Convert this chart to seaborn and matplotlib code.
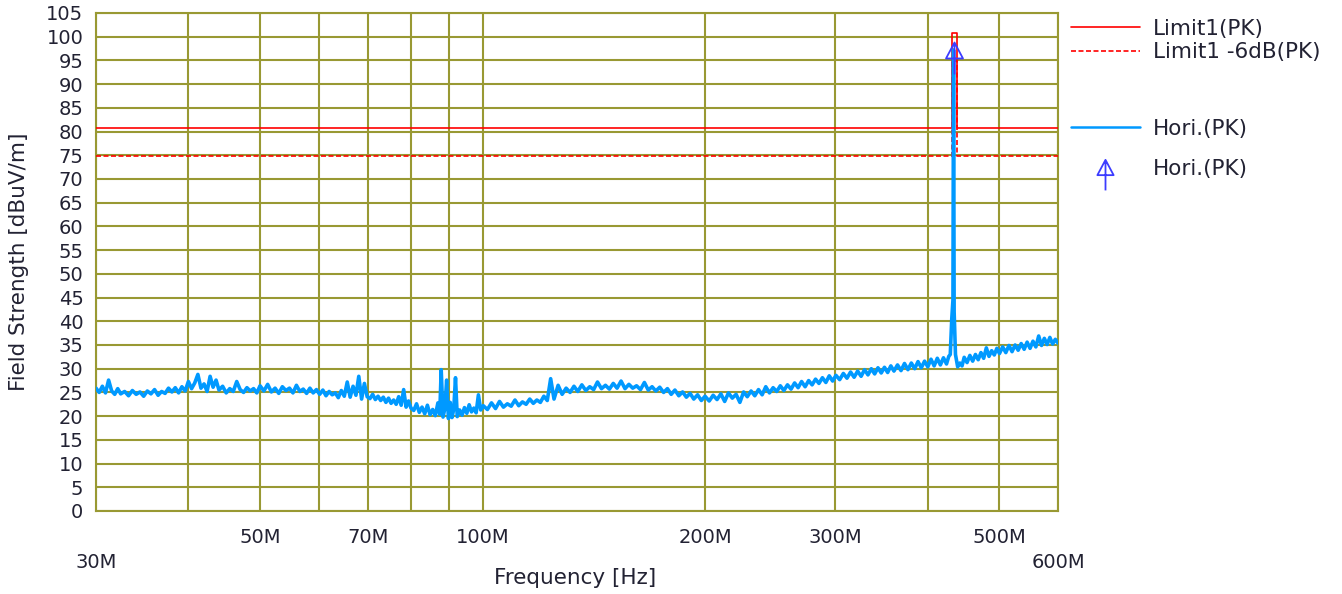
import numpy as np
import pandas as pd
import seaborn as sns
import matplotlib
matplotlib.use("Agg")
import matplotlib.pyplot as plt
from matplotlib.lines import Line2D
from matplotlib.path import Path

# sweep, frequency in MHz, level in dBuV/m
f_30_100 = [30.0, 30.3, 30.6, 30.9, 31.2, 31.5, 31.8, 32.1, 32.4, 32.8,
            33.2, 33.6, 34.0, 34.4, 34.8, 35.2, 35.6, 36.0, 36.4, 36.8,
            37.2, 37.6, 38.0, 38.4, 38.8, 39.2, 39.6, 40.0,
            40.4, 40.8, 41.2, 41.6, 42.0, 42.4, 42.8, 43.2, 43.6, 44.0,
            44.5, 45.0, 45.5, 46.0, 46.5, 47.0, 47.5, 48.0, 48.5, 49.0,
            49.5, 50.0,
            50.6, 51.2, 51.8, 52.4, 53.0, 53.6, 54.2, 54.8, 55.4, 56.0,
            56.6, 57.2, 57.8, 58.4, 59.0, 59.6,
            60.2, 60.8, 61.4, 62.0, 62.6, 63.2, 63.8, 64.4, 65.0, 65.6,
            66.2, 66.8, 67.4, 68.0, 68.6, 69.2, 69.8,
            70.4, 71.0, 71.6, 72.2, 72.8, 73.4, 74.0, 74.6, 75.2, 75.8,
            76.4, 77.0, 77.6, 78.2, 78.8, 79.4, 80.0,
            80.7, 81.4, 82.1, 82.8, 83.5, 84.2, 84.9, 85.6, 86.3, 87.0,
            87.5, 87.9, 88.4, 88.9, 89.4, 89.9, 90.4, 90.9, 91.4, 91.9,
            92.4, 93.1, 93.8, 94.5, 95.2, 95.9, 96.6, 97.3, 98.0, 98.7,
            99.4]
lv_30_100 = [25.9, 25.0, 26.3, 24.9, 27.6, 25.3, 24.6, 25.8, 24.7, 25.2,
             24.3, 25.4, 24.6, 25.1, 24.2, 25.3, 24.7, 25.6, 24.4, 25.2,
             24.8, 25.9, 25.1, 26.0, 24.9, 26.2, 25.3, 27.3,
             25.8, 27.0, 28.8, 25.9, 26.8, 25.2, 28.4, 26.1, 27.6, 25.5,
             26.3, 24.9, 25.8, 25.2, 27.3, 25.6, 25.0, 26.0, 25.3, 25.8,
             24.9, 26.4,
             25.3, 26.7, 25.1, 25.9, 24.8, 26.2, 25.4, 25.9, 24.9, 26.5,
             25.2, 25.7, 24.8, 25.9, 24.9, 25.6,
             24.6, 25.5, 24.3, 25.2, 24.5, 24.9, 23.9, 25.4, 24.2, 27.2,
             24.0, 26.3, 24.4, 28.4, 23.6, 26.9, 24.1,
             23.7, 24.6, 23.5, 24.2, 23.3, 24.0, 22.9, 23.8, 22.7, 23.4,
             22.5, 24.1, 22.3, 25.6, 21.9, 23.2, 21.7,
             21.2, 22.6, 20.8, 21.9, 20.5, 22.3, 20.3, 21.4, 20.1, 22.8,
             20.4, 29.8, 19.8, 21.6, 27.6, 19.5, 22.9, 19.7, 21.5, 28.1,
             19.9, 21.3, 20.2, 21.8, 20.6, 22.4, 20.9, 21.7, 20.7, 24.5,
             21.3]

f_100_300 = [100.2, 101.5, 102.8, 104.1, 105.4, 106.7, 108.0, 109.3, 110.6, 111.9,
             113.2, 114.5, 115.8, 117.1, 118.4, 119.7, 121.0, 122.3, 123.6, 124.9,
             126.5, 128.1, 129.7, 131.3, 132.9, 134.5, 136.2, 137.9, 139.6, 141.3,
             143.0, 144.8, 146.6, 148.4, 150.2, 152.0, 153.9, 155.8, 157.7, 159.6,
             161.5, 163.5, 165.5, 167.5, 169.5,
             171.5, 173.6, 175.7, 177.8, 179.9, 182.0, 184.2, 186.4, 188.6, 190.8,
             193.0, 195.3, 197.6, 199.9,
             202.5, 205.0, 207.5, 210.0, 212.5, 215.0, 217.6, 220.2, 222.8, 225.4,
             228.0, 230.7, 233.4, 236.1, 238.8, 241.5, 244.3, 247.1, 249.9, 252.7,
             255.5, 258.4, 261.3, 264.2, 267.1, 270.0, 273.0, 276.0, 279.0, 282.0,
             285.0, 288.1, 291.2, 294.3, 297.4]
lv_100_300 = [22.2, 21.4, 22.8, 21.6, 23.1, 21.9, 22.6, 22.1, 23.4, 22.2,
              23.0, 22.5, 23.6, 22.7, 23.4, 22.9, 24.2, 23.3, 27.9, 23.6,
              26.5, 24.6, 25.9, 25.0, 26.3, 25.2, 26.6, 25.4, 26.2, 25.6,
              27.2, 25.8, 26.5, 25.7, 26.9, 25.9, 27.4, 25.8, 26.7, 25.9,
              26.4, 25.6, 27.1, 25.5, 26.2,
              25.3, 26.1, 25.0, 25.8, 24.6, 25.5, 24.3, 25.1, 24.0, 24.8,
              23.6, 24.5, 23.3, 24.2,
              23.2, 24.4, 23.5, 24.7, 23.1, 24.9, 23.8, 24.6, 22.9, 25.1,
              24.1, 25.3, 24.3, 25.6, 24.5, 26.2, 24.9, 26.0, 25.2, 26.4,
              25.4, 26.6, 25.7, 27.0, 26.0, 27.3, 26.2, 27.5, 26.6, 27.8,
              26.9, 28.1, 27.1, 28.5, 27.4]

f_300_600 = [300.5, 304.0, 307.5, 311.0, 314.5, 318.0, 321.5, 325.0, 328.5, 332.0,
             335.5, 339.0, 342.5, 346.0, 349.5, 353.0, 356.5, 360.0, 364.0, 368.0,
             372.0, 376.0, 380.0, 384.0, 388.0, 392.0, 396.0, 400.0, 404.0, 408.0,
             412.0, 416.0, 420.0, 424.0, 427.0,
             429.0, 431.0, 432.6, 433.4, 434.2, 436.0, 439.0, 442.0, 445.0,
             448, 452, 456, 460, 464, 468, 472, 476, 480, 484,
             488, 492, 496, 500, 505, 510, 515, 520, 525, 530,
             535, 540, 545, 550, 555, 560, 565, 570, 575, 580,
             585, 590, 595, 600]
lv_300_600 = [28.6, 27.7, 29.0, 28.0, 29.3, 28.2, 29.5, 28.4, 29.8, 28.7,
              30.0, 28.9, 30.2, 29.1, 30.3, 29.2, 30.6, 29.5, 30.8, 29.6,
              31.1, 29.8, 31.2, 30.0, 31.5, 30.2, 31.6, 30.4, 32.0, 30.6,
              32.2, 30.8, 32.3, 31.0, 32.6,
              33.0, 40.5, 44.5, 97.2, 42.0, 33.0, 30.4, 31.2, 30.6,
              32.4, 31.3, 32.8, 31.6, 33.0, 31.9, 33.4, 32.2, 34.4, 32.6,
              33.8, 32.9, 34.3, 33.2, 34.6, 33.4, 34.9, 33.6, 35.0, 33.9,
              35.3, 34.1, 35.6, 34.3, 35.8, 34.6, 36.9, 34.9, 36.4, 35.1,
              36.6, 35.2, 36.2, 35.4]

# limit lines
limit_freq = [30, 431.5, 431.5, 437.5, 437.5, 600]
limit_pk = [80.8, 80.8, 100.8, 100.8, 80.8, 80.8]
limit_6db = [74.8, 74.8, 94.8, 94.8, 74.8, 74.8]

# peak marker
peak_freq = [433.4]
peak_level = [97.2]

grid_freq = [30, 40, 50, 60, 70, 80, 90, 100, 200, 300, 400, 500, 600]
grid_labels = ["", "", "50M", "", "70M", "", "", "100M", "200M", "300M", "", "500M", ""]
end_freq = [30, 600]
end_labels = ["30M", "600M"]
y_ticks = list(range(0, 106, 5))

OLIVE = "#999933"
TRACE = "#0099ff"
MARK = "#3c3cff"
TXT = "#222233"

sns.set_style("white")
plt.rcParams["font.family"] = ["DejaVu Sans"]

trace = pd.DataFrame({
    "freq": f_30_100 + f_100_300 + f_300_600,
    "level": lv_30_100 + lv_100_300 + lv_300_600,
})
limits = pd.DataFrame({"freq": limit_freq, "pk": limit_pk, "pk6": limit_6db})

fig = plt.figure(figsize=(13.42, 5.94), dpi=100)
ax = fig.add_axes([96 / 1342, 1 - 511 / 594, 962 / 1342, 498 / 594])
ax.set_xscale("log")

sns.lineplot(data=limits, x="freq", y="pk", estimator=None, sort=False,
             color="red", lw=1.2, ax=ax, zorder=3)
sns.lineplot(data=limits, x="freq", y="pk6", estimator=None, sort=False,
             color="red", lw=1.2, dashes=False, ax=ax, zorder=3,
             linestyle=(0, (3, 1.5)))
sns.lineplot(data=trace, x="freq", y="level", estimator=None, sort=False,
             color=TRACE, lw=2.6, ax=ax, zorder=4)

# arrow-style marker: open triangle with a stem
arrow = Path([(0, 8), (-8.5, -8), (8.5, -8), (0, 8), (0, 6), (0, -24)],
             [Path.MOVETO, Path.LINETO, Path.LINETO, Path.CLOSEPOLY,
              Path.MOVETO, Path.LINETO])
ax.plot(peak_freq, peak_level, ls="none", marker=arrow, ms=34.5,
        mfc="none", mec=MARK, mew=1.3, zorder=5)

ax.set_xlim(30, 600)
ax.set_ylim(0, 105)
ax.set_yticks(y_ticks)
ax.set_xticks(grid_freq, labels=grid_labels)
ax.set_xticks(end_freq, labels=end_labels, minor=True)
ax.xaxis.remove_overlapping_locs = False
ax.tick_params(axis="x", which="major", length=0, pad=12, labelsize=14, labelcolor=TXT)
ax.tick_params(axis="x", which="minor", length=0, pad=30, labelsize=14, labelcolor=TXT)
ax.tick_params(axis="y", length=0, pad=9, labelsize=14, labelcolor=TXT)
ax.grid(True, which="major", color=OLIVE, lw=1.5)
ax.grid(False, which="minor")
ax.set_axisbelow(True)
for s in ax.spines.values():
    s.set_color(OLIVE)
    s.set_linewidth(1.5)

ax.set_xlabel("Frequency [Hz]", fontsize=15.5, color=TXT)
ax.set_ylabel("Field Strength [dBuV/m]", fontsize=15.5, color=TXT)
ax.xaxis.set_label_coords(0.498, -0.114)
ax.yaxis.set_label_coords(-0.07, 0.5)

h1 = [Line2D([], [], color="red", lw=1.2),
      Line2D([], [], color="red", lw=1.2, linestyle=(0, (3, 1.5)))]
leg1 = fig.legend(h1, ["Limit1(PK)", "Limit1 -6dB(PK)"], loc="upper left",
                  bbox_to_anchor=(1071 / 1342, 1 - 19 / 594), frameon=False,
                  fontsize=15.5, handlelength=3.2, handletextpad=0.6,
                  labelspacing=0.15, borderpad=0, borderaxespad=0, labelcolor=TXT)
h2 = [Line2D([], [], color=TRACE, lw=1.8),
      Line2D([], [], ls="none", marker=arrow, ms=33, mfc="none", mec=MARK, mew=1.3)]
leg2 = fig.legend(h2, ["Hori.(PK)", "Hori.(PK)"], loc="upper left",
                  bbox_to_anchor=(1071 / 1342, 1 - 119 / 594), frameon=False,
                  fontsize=15.5, handlelength=3.2, handletextpad=0.6,
                  labelspacing=0.93, borderpad=0, borderaxespad=0, labelcolor=TXT)

fig.savefig("out.png", dpi=100)
